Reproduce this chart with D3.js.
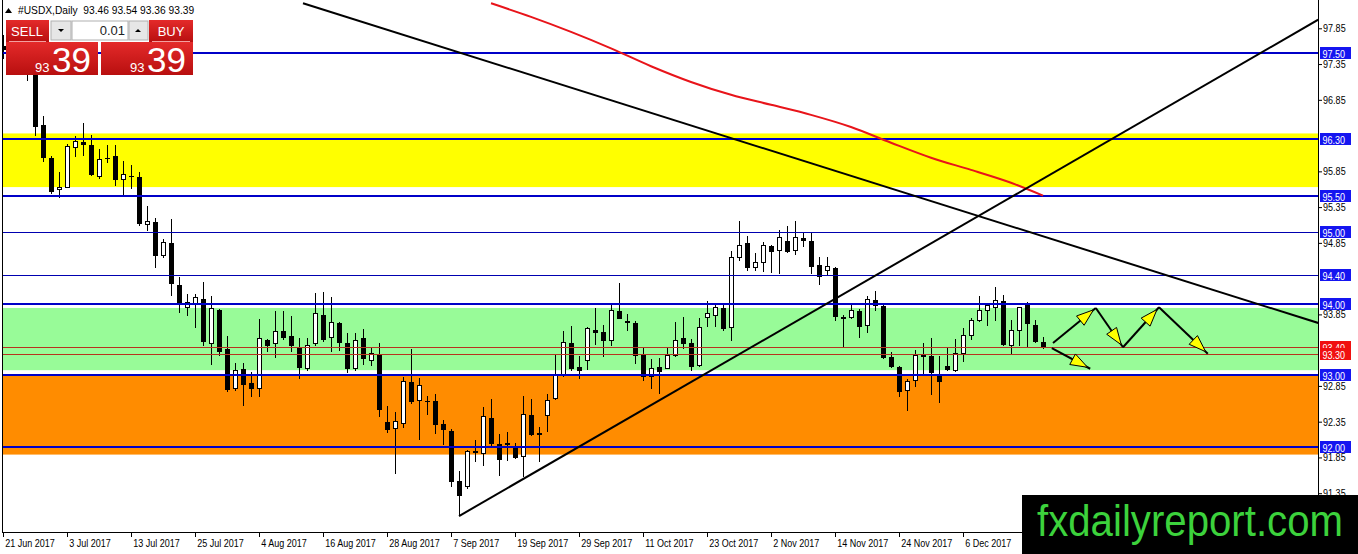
<!DOCTYPE html>
<html>
<head>
<meta charset="utf-8">
<script src="https://cdn.jsdelivr.net/npm/d3@7"></script>
<style>
  html, body { margin: 0; padding: 0; background: #fff; }
  svg { display: block; font-family: "Liberation Sans", Arial, sans-serif; }
</style>
</head>
<body>
<div id="chart"></div>
<script>
// #USDX daily bars, 21 Jun 2017 -> 20 Dec 2017
var openP = [97.60, 97.55, 97.48, 97.38, 97.35, 96.50, 96.03, 95.59, 95.63, 96.19,
  96.26, 96.22, 95.78, 96.03, 96.06, 95.73, 95.78, 95.77, 95.10, 95.14,
  94.67, 94.85, 94.26, 93.95, 93.99, 94.06, 93.45, 93.91, 93.37, 92.81,
  93.09, 92.89, 92.81, 93.49, 93.44, 93.62, 93.55, 93.40, 93.09, 93.45,
  93.84, 93.52, 93.73, 93.45, 93.09, 93.52, 93.20, 93.30, 92.35, 92.25,
  92.33, 92.91, 92.64, 92.64, 92.64, 92.32, 92.22, 91.52, 91.45, 91.94,
  91.91, 92.40, 92.04, 92.05, 92.01, 91.87, 92.45, 92.17, 92.43, 92.67,
  92.99, 93.45, 93.11, 93.21, 93.63, 93.60, 93.48, 93.90, 93.76, 93.73,
  93.30, 92.98, 93.11, 93.10, 93.27, 93.52, 93.45, 93.13, 93.81, 93.83,
  93.94, 93.66, 94.64, 94.85, 94.50, 94.57, 94.81, 94.74, 94.87, 94.74,
  94.92, 94.87, 94.54, 94.46, 94.50, 93.80, 93.80, 93.90, 93.70, 94.05,
  93.97, 93.25, 93.12, 92.78, 92.92, 93.26, 93.27, 93.00, 93.13, 93.07,
  93.31, 93.56, 93.77, 93.90, 93.95, 94.04, 93.41, 93.62, 94.01, 93.70,
  93.46];
var highP = [97.75, 97.70, 97.68, 97.55, 97.45, 96.63, 96.06, 95.84, 96.23, 96.34,
  96.52, 96.36, 96.16, 96.22, 96.22, 95.99, 95.94, 95.84, 95.36, 95.20,
  94.90, 95.18, 94.37, 94.13, 94.13, 94.30, 94.11, 93.93, 93.55, 93.17,
  93.17, 93.05, 93.79, 93.50, 93.90, 93.90, 93.83, 93.52, 93.52, 94.15,
  94.16, 94.09, 93.75, 93.59, 93.59, 93.65, 93.40, 93.45, 92.57, 92.49,
  92.98, 93.37, 92.96, 92.71, 92.74, 92.38, 92.25, 91.66, 91.95, 92.10,
  92.56, 92.67, 92.18, 92.21, 92.05, 92.71, 92.67, 92.28, 92.74, 93.30,
  93.62, 93.69, 93.27, 93.67, 93.94, 93.70, 94.01, 94.29, 93.86, 93.76,
  93.38, 93.23, 93.24, 93.38, 93.74, 93.81, 93.50, 93.80, 94.04, 94.01,
  94.01, 94.74, 95.15, 94.95, 94.71, 94.86, 94.82, 95.03, 95.08, 95.15,
  94.99, 94.99, 94.65, 94.65, 94.51, 93.84, 94.00, 93.93, 94.11, 94.18,
  94.01, 93.32, 93.13, 92.95, 93.35, 93.45, 93.52, 93.27, 93.38, 93.51,
  93.66, 93.80, 94.11, 94.01, 94.23, 94.12, 93.77, 93.96, 94.02, 93.77,
  93.54];
var lowP = [97.42, 97.40, 97.30, 97.11, 96.34, 95.98, 95.53, 95.48, 95.62, 96.05,
  96.06, 95.78, 95.74, 95.96, 95.64, 95.52, 95.60, 95.08, 95.01, 94.50,
  94.64, 94.11, 93.87, 93.83, 93.66, 93.41, 93.14, 93.27, 92.77, 92.78,
  92.57, 92.70, 92.70, 93.32, 93.24, 93.49, 93.32, 92.95, 93.06, 93.41,
  93.46, 93.32, 93.34, 93.03, 93.06, 93.14, 93.13, 92.42, 92.19, 91.62,
  92.26, 92.60, 92.10, 92.45, 92.18, 92.03, 91.43, 91.03, 91.41, 91.79,
  91.73, 92.01, 91.59, 91.80, 91.83, 91.57, 92.15, 91.79, 92.21, 92.66,
  92.98, 93.06, 92.95, 93.07, 93.42, 93.26, 93.41, 93.78, 93.62, 93.16,
  92.92, 92.81, 92.74, 93.09, 93.26, 93.37, 93.06, 93.12, 93.67, 93.67,
  93.62, 93.48, 94.60, 94.46, 94.46, 94.44, 94.43, 94.41, 94.71, 94.68,
  94.79, 94.41, 94.26, 94.39, 93.76, 93.40, 93.79, 93.52, 93.59, 93.90,
  93.23, 93.10, 92.70, 92.50, 92.84, 92.99, 92.72, 92.61, 93.06, 93.04,
  93.19, 93.49, 93.74, 93.69, 93.76, 93.41, 93.30, 93.41, 93.40, 93.45,
  93.36];
var closeP = [97.55, 97.48, 97.38, 97.42, 96.47, 96.03, 95.56, 95.62, 96.20, 96.27,
  96.22, 95.80, 96.01, 96.02, 95.73, 95.80, 95.77, 95.11, 95.15, 94.67,
  94.85, 94.27, 93.99, 94.02, 94.09, 93.46, 93.93, 93.33, 92.79, 93.07,
  92.86, 92.81, 93.51, 93.41, 93.61, 93.52, 93.41, 93.10, 93.42, 93.86,
  93.49, 93.73, 93.45, 93.09, 93.49, 93.23, 93.30, 92.52, 92.24, 92.35,
  92.91, 92.63, 92.85, 92.62, 92.30, 92.24, 91.51, 91.31, 91.94, 91.91,
  92.42, 92.04, 91.82, 92.03, 91.84, 92.45, 92.17, 92.18, 92.64, 92.99,
  93.46, 93.09, 93.06, 93.65, 93.59, 93.48, 93.90, 93.79, 93.73, 93.27,
  92.98, 93.10, 93.05, 93.27, 93.49, 93.44, 93.12, 93.67, 93.86, 93.95,
  93.65, 94.65, 94.81, 94.50, 94.57, 94.81, 94.72, 94.93, 94.72, 94.93,
  94.87, 94.51, 94.37, 94.52, 93.81, 93.81, 93.90, 93.67, 94.06, 93.97,
  93.24, 93.12, 92.77, 92.91, 93.27, 93.27, 93.03, 92.91, 93.07, 93.30,
  93.55, 93.76, 93.90, 93.97, 94.05, 93.42, 93.62, 93.94, 93.72, 93.46,
  93.39];

var tickLabels = ['21 Jun 2017', '3 Jul 2017', '13 Jul 2017', '25 Jul 2017', '4 Aug 2017',
  '16 Aug 2017', '28 Aug 2017', '7 Sep 2017', '19 Sep 2017', '29 Sep 2017', '11 Oct 2017',
  '23 Oct 2017', '2 Nov 2017', '14 Nov 2017', '24 Nov 2017', '6 Dec 2017'];
// ticks hidden behind the level labels are left out
var priceTicks = [91.35, 91.85, 92.35, 92.85, 93.85, 94.85,
  95.35, 95.85, 96.85, 97.35, 97.85];

// horizontal levels
var thickLevels = [97.50, 96.30, 95.50, 94.00, 93.00, 92.00];
var thinLevels = [95.00, 94.40];
var redLevels = [93.40, 93.30];

// zones [top, bottom]
var yellowZone = [96.38, 95.63];
var greenZone = [93.94, 93.07];
var orangeZone = [93.00, 91.89];

// moving average, [bar, price]
var maLine = [[61, 98.20], [66, 98.01], [71, 97.80], [76, 97.57], [81, 97.32], [86, 97.10],
  [91, 96.92], [96, 96.78], [101, 96.64], [106, 96.47], [111, 96.25], [116, 96.04],
  [121, 95.87], [126, 95.69], [130, 95.51]];

// trend lines, [bar, price] anchors
var trendDown = [[37.5, 98.20], [164.4, 93.73]];
var trendUp = [[57, 91.03], [164.4, 97.97]];

// projection arrows
var arrows = [
  [[131.25, 93.45], [136.6, 93.94]],
  [[136.6, 93.94], [140, 93.39]],
  [[140, 93.39], [144.5, 93.95]],
  [[144.5, 93.95], [150.6, 93.30]],
  [[131.1, 93.38], [135.9, 93.09]]
];

var w = 1358, h = 554;
var left = 2, right = 1318, bottom = 532;
var last = closeP.length - 1;
var narrow = 'scale(0.82,1)';

var x = d3.scaleLinear().domain([0, 164.375]).range([3, right]);
var y = d3.scaleLinear().domain([91.35, 97.85]).range([493.2, 28.3]);

var svg = d3.select('#chart').append('svg')
  .attr('width', w).attr('height', h);

var defs = svg.append('defs');
defs.append('clipPath').attr('id', 'plot')
  .append('rect').attr('x', left + 1).attr('y', 0)
  .attr('width', right - left - 1).attr('height', bottom);

var grad = defs.append('linearGradient').attr('id', 'red')
  .attr('x1', 0).attr('y1', 0).attr('x2', 0).attr('y2', 1);
grad.append('stop').attr('offset', '0%').attr('stop-color', '#e42a2a');
grad.append('stop').attr('offset', '100%').attr('stop-color', '#b80f0f');

var plot = svg.append('g').attr('clip-path', 'url(#plot)');

// zones
[[yellowZone, '#ffff00'], [greenZone, '#98fb98'], [orangeZone, '#ff8c00']].forEach(function(z) {
  plot.append('rect')
    .attr('x', left).attr('width', right - left)
    .attr('y', y(z[0][0]))
    .attr('height', y(z[0][1]) - y(z[0][0]))
    .attr('fill', z[1]);
});

// candles
var bars = plot.append('g').attr('shape-rendering', 'crispEdges')
  .selectAll('g').data(closeP).enter().append('g');

bars.append('rect')
  .attr('x', function(d, i) { return Math.round(x(i)); })
  .attr('y', function(d, i) { return y(highP[i]); })
  .attr('width', 1)
  .attr('height', function(d, i) { return Math.max(1, y(lowP[i]) - y(highP[i])); })
  .attr('fill', '#000');

bars.append('rect')
  .attr('x', function(d, i) {
    return Math.round(x(i)) - (d >= openP[i] ? 1.5 : 2);
  })
  .attr('y', function(d, i) { return y(Math.max(d, openP[i])); })
  .attr('width', function(d, i) { return d >= openP[i] ? 4 : 5; })
  .attr('height', function(d, i) { return Math.max(1, Math.abs(y(d) - y(openP[i]))); })
  .attr('fill', function(d, i) { return d >= openP[i] ? '#fff' : '#000'; })
  .attr('stroke', function(d, i) { return d >= openP[i] ? '#000' : 'none'; });

// level lines
var lines = plot.append('g').attr('shape-rendering', 'crispEdges');
thickLevels.forEach(function(v) {
  lines.append('line').attr('x1', left).attr('x2', right)
    .attr('y1', Math.round(y(v))).attr('y2', Math.round(y(v)))
    .attr('stroke', '#0000c8').attr('stroke-width', 2);
});
thinLevels.forEach(function(v) {
  lines.append('line').attr('x1', left).attr('x2', right)
    .attr('y1', Math.round(y(v)) + 0.5).attr('y2', Math.round(y(v)) + 0.5)
    .attr('stroke', '#0000b0').attr('stroke-width', 1);
});
redLevels.forEach(function(v) {
  lines.append('line').attr('x1', left).attr('x2', right)
    .attr('y1', Math.round(y(v)) + 0.5).attr('y2', Math.round(y(v)) + 0.5)
    .attr('stroke', '#b8321e').attr('stroke-width', 1);
});

var path = d3.line()
  .x(function(d) { return x(d[0]); })
  .y(function(d) { return y(d[1]); });

plot.append('path').datum(maLine)
  .attr('d', path.curve(d3.curveMonotoneX))
  .attr('fill', 'none').attr('stroke', '#e8141a').attr('stroke-width', 2);
path.curve(d3.curveLinear);

[trendDown, trendUp].forEach(function(t) {
  plot.append('path').datum(t).attr('d', path)
    .attr('fill', 'none').attr('stroke', '#000').attr('stroke-width', 2);
});

// arrows
arrows.forEach(function(a) {
  var x1 = x(a[0][0]), y1 = y(a[0][1]), x2 = x(a[1][0]), y2 = y(a[1][1]);
  var ang = Math.atan2(y2 - y1, x2 - x1);
  plot.append('line')
    .attr('x1', x1).attr('y1', y1).attr('x2', x2).attr('y2', y2)
    .attr('stroke', '#000').attr('stroke-width', 2);
  var tx = x2 - 3 * Math.cos(ang), ty = y2 - 3 * Math.sin(ang);
  var bx = tx - 17 * Math.cos(ang), by = ty - 17 * Math.sin(ang);
  var px = -Math.sin(ang) * 6, py = Math.cos(ang) * 6;
  plot.append('path')
    .attr('d', 'M' + tx + ',' + ty + 'L' + (bx + px) + ',' + (by + py) +
      'L' + (bx - px) + ',' + (by - py) + 'Z')
    .attr('fill', '#ffff00').attr('stroke', '#000').attr('stroke-width', 1);
});

// frame
var frame = svg.append('g').attr('shape-rendering', 'crispEdges');
frame.append('line').attr('x1', left + 0.5).attr('x2', left + 0.5)
  .attr('y1', 0).attr('y2', bottom).attr('stroke', '#000');
frame.append('line').attr('x1', right + 0.5).attr('x2', right + 0.5)
  .attr('y1', 0).attr('y2', bottom + 1).attr('stroke', '#000');
frame.append('line').attr('x1', left).attr('x2', right + 1)
  .attr('y1', bottom + 0.5).attr('y2', bottom + 0.5).attr('stroke', '#000');

// axes
var yAxis = svg.append('g')
  .attr('transform', 'translate(' + (right + 1) + ',0)')
  .call(d3.axisRight(y).tickValues(priceTicks).tickSize(3)
    .tickFormat(d3.format('.2f')));
yAxis.select('.domain').remove();
yAxis.selectAll('text').attr('x', 5).attr('font-size', '11px')
  .attr('transform', narrow)
  .attr('font-family', null).attr('fill', '#000');

var xAxis = svg.append('g')
  .attr('transform', 'translate(0,' + (bottom + 1) + ')')
  .call(d3.axisBottom(x).tickValues(tickLabels.map(function(d, k) { return k * 8; }))
    .tickSize(4)
    .tickFormat(function(d, k) { return tickLabels[k]; }));
xAxis.select('.domain').remove();
xAxis.selectAll('text').attr('text-anchor', 'start').attr('x', 2)
  .attr('y', 6).attr('font-size', '11px')
  .attr('transform', narrow)
  .attr('font-family', null).attr('fill', '#000');

// level labels on the price scale
function levelLabel(v, color) {
  var g = svg.append('g').attr('transform', 'translate(' + (right + 2) + ',' + Math.round(y(v)) + ')');
  g.append('rect').attr('x', 0).attr('y', -6).attr('width', 31).attr('height', 12)
    .attr('fill', color);
  g.append('text').attr('x', 3).attr('y', 4.5).attr('fill', '#fff')
    .attr('transform', narrow)
    .attr('font-size', '11px').text(d3.format('.2f')(v));
}
thickLevels.concat(thinLevels).forEach(function(v) { levelLabel(v, '#1515f0'); });
redLevels.forEach(function(v) { levelLabel(v, '#f01010'); });

// header
svg.append('path').attr('d', 'M5,13L8.5,8L12,13Z').attr('fill', '#000');
svg.append('text').attr('transform', 'translate(18,14) scale(0.93,1)')
  .attr('font-size', '11px').attr('fill', '#000')
  .attr('xml:space', 'preserve')
  .text('#USDX,Daily  ' + [openP[last], highP[last], lowP[last], closeP[last]]
    .map(d3.format('.2f')).join(' '));

// one-click trading panel
var bid = d3.format('.2f')(closeP[last]).split('.');
var panel = svg.append('g');
panel.append('rect').attr('x', 6).attr('y', 20).attr('width', 43).attr('height', 22).attr('fill', 'url(#red)');
panel.append('rect').attr('x', 149).attr('y', 20).attr('width', 44).attr('height', 22).attr('fill', 'url(#red)');
panel.append('rect').attr('x', 51).attr('y', 21).attr('width', 20).attr('height', 19)
  .attr('fill', '#e6e6e6').attr('stroke', '#b0b0b0');
panel.append('rect').attr('x', 72).attr('y', 21).attr('width', 56).attr('height', 19)
  .attr('fill', '#fff').attr('stroke', '#b0b0b0');
panel.append('rect').attr('x', 129).attr('y', 21).attr('width', 19).attr('height', 19)
  .attr('fill', '#e6e6e6').attr('stroke', '#b0b0b0');
panel.append('path').attr('d', 'M58,29L64,29L61,32Z').attr('fill', '#000');
panel.append('path').attr('d', 'M135,32L141,32L138,29Z').attr('fill', '#000');
panel.append('text').attr('x', 125).attr('y', 35).attr('text-anchor', 'end')
  .attr('font-size', '13px').attr('fill', '#222').text('0.01');
panel.append('text').attr('x', 27).attr('y', 36).attr('text-anchor', 'middle')
  .attr('font-size', '13px').attr('fill', '#fff').text('SELL');
panel.append('text').attr('x', 171).attr('y', 36).attr('text-anchor', 'middle')
  .attr('font-size', '13px').attr('fill', '#fff').text('BUY');
panel.append('line').attr('x1', 9).attr('x2', 46).attr('y1', 41.5).attr('y2', 41.5)
  .attr('stroke', '#f3a0a0');
panel.append('line').attr('x1', 152).attr('x2', 190).attr('y1', 41.5).attr('y2', 41.5)
  .attr('stroke', '#f3a0a0');
[6, 101].forEach(function(bx) {
  panel.append('rect').attr('x', bx).attr('y', 42).attr('width', 92).attr('height', 33)
    .attr('fill', 'url(#red)');
  panel.append('text').attr('x', bx + 29).attr('y', 72).attr('font-size', '13px')
    .attr('fill', '#fff').text(bid[0]);
  panel.append('text').attr('x', bx + 46).attr('y', 72).attr('font-size', '35px')
    .attr('fill', '#fff').text(bid[1]);
});

// watermark
svg.append('rect').attr('x', 1022).attr('y', 495).attr('width', 336).attr('height', 59).attr('fill', '#000');
svg.append('text').attr('x', 1037).attr('y', 536)
  .attr('font-size', '44px').attr('fill', '#3cd23c')
  .attr('textLength', 306).attr('lengthAdjust', 'spacingAndGlyphs')
  .text('fxdailyreport.com');
</script>
</body>
</html>
